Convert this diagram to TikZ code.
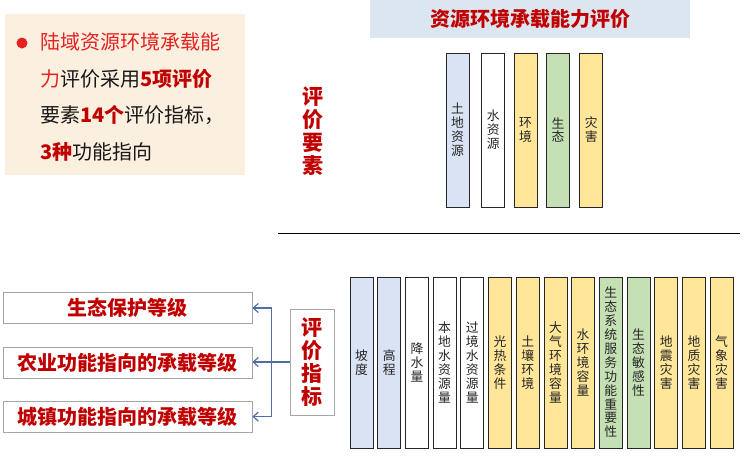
\documentclass[tikz,border=0pt]{standalone}
\usepackage{fontspec}
\usepackage{xcolor}
\usepackage{tikz}
\usetikzlibrary{arrows.meta,positioning}
\newfontfamily\cjk{Noto Sans CJK SC}
\definecolor{darkred}{HTML}{C00000}
\definecolor{brightred}{HTML}{E42222}
\definecolor{barblue}{HTML}{DAE3F3}
\definecolor{baryellow}{HTML}{FFE699}
\definecolor{bargreen}{HTML}{C5E0B4}
\definecolor{banner}{HTML}{DCE6F1}
\definecolor{beige}{HTML}{FBEFDF}
\definecolor{arrowblue}{HTML}{4F6FA8}
\definecolor{boxgray}{HTML}{A6A6A6}

\begin{document}
\begin{tikzpicture}[
    x=1pt, y=-1pt,
    every node/.style={font=\cjk},
    bar/.style={
        draw=black!85,
        line width=0.8pt,
        minimum width=23pt,
        inner sep=0pt,
        align=center,
        text=black!85,
        font=\cjk\fontsize{12.8}{13.9}\selectfont
    },
    topbar/.style={bar, minimum height=154pt},
    lowbar/.style={bar, minimum height=171pt},
    grade/.style={
        draw=boxgray,
        line width=0.8pt,
        minimum width=249pt,
        minimum height=31pt,
        text=darkred,
        font=\cjk\bfseries\fontsize{20}{22}\selectfont
    },
    heading/.style={
        align=center,
        text=darkred,
        font=\cjk\bfseries\fontsize{21}{23}\selectfont
    },
    intro/.style={
        anchor=base west,
        inner sep=0pt,
        text=black!90,
        font=\cjk\fontsize{20}{22}\selectfont
    },
    arrow/.style={-{Straight Barb[length=5pt,width=9pt]}, draw=arrowblue, line width=1.2pt}
]
\useasboundingbox (0,0) rectangle (752,463);

% intro panel
\fill[beige] (5,14) rectangle (245,175);
\node[circle, fill=brightred, minimum size=11pt, inner sep=0pt] (dot) at (22,43) {};
\node[intro, text=brightred] (line1) at (40,49) {陆域资源环境承载能};
\node[intro] (line2) at (40,86) {\textcolor{brightred}{力}评价采用\textbf{\textcolor{darkred}{5项评价}}};
\node[intro] (line3) at (40,122) {要素\textbf{\textcolor{darkred}{14个}}评价指标，};
\node[intro] (line4) at (40,159) {\textbf{\textcolor{darkred}{3种}}功能指向};

% title
\node[fill=banner, minimum width=320pt, minimum height=38pt, text=darkred,
    font=\cjk\bfseries\fontsize{20}{22}\selectfont] (title) at (530,19) {资源环境承载能力评价};

% elements
\node[heading] (elem) at (313,131) {评\\价\\要\\素};
\node[topbar, fill=barblue] (land) at (457.5,130) {土\\地\\资\\源};
\node[topbar, fill=white, right=12pt of land] (water) {水\\资\\源};
\node[topbar, fill=baryellow, right=8.5pt of water] (env) {环\\境};
\node[topbar, fill=bargreen, right=8.5pt of env] (eco) {生\\态};
\node[topbar, fill=baryellow, right=9.5pt of eco] (hazard) {灾\\害};

\draw[line width=0.8pt] (278,233) -- (740,233);

% indicators
\node[lowbar, fill=barblue] (slope) at (361.5,362.5) {坡\\度};
\node[lowbar, fill=barblue, right=3.9pt of slope] (elev) {高\\程};
\node[lowbar, fill=white, right=3.9pt of elev] (rain) {降\\水\\量};
\node[lowbar, fill=white, right=3.9pt of rain] (localw) {本\\地\\水\\资\\源\\量};
\node[lowbar, fill=white, right=3.9pt of localw] (transw) {过\\境\\水\\资\\源\\量};
\node[lowbar, fill=baryellow, right=3.9pt of transw] (light) {光\\热\\条\\件};
\node[lowbar, fill=baryellow, right=3.9pt of light] (soil) {土\\壤\\环\\境};
\node[lowbar, fill=baryellow, right=3.9pt of soil] (air) {大\\气\\环\\境\\容\\量};
\node[lowbar, fill=baryellow, right=3.9pt of air] (waterenv) {水\\环\\境\\容\\量};
\node[lowbar, fill=bargreen, right=3.9pt of waterenv] (service) {生\\态\\系\\统\\服\\务\\功\\能\\重\\要\\性};
\node[lowbar, fill=bargreen, right=3.9pt of service] (sensi) {生\\态\\敏\\感\\性};
\node[lowbar, fill=baryellow, right=3.9pt of sensi] (quake) {地\\震\\灾\\害};
\node[lowbar, fill=baryellow, right=3.9pt of quake] (geo) {地\\质\\灾\\害};
\node[lowbar, fill=baryellow, right=3.9pt of geo] (weather) {气\\象\\灾\\害};

% grades
\node[draw=boxgray, line width=0.8pt, minimum width=44pt, minimum height=106pt, heading] (ind) at (312,362) {评\\价\\指\\标};
\node[grade] (ecograde) at (127.5,308) {生态保护等级};
\node[grade, below=23pt of ecograde] (agri) {农业功能指向的承载等级};
\node[grade, below=22pt of agri] (urban) {城镇功能指向的承载等级};

\coordinate[left=18pt of ind.west] (split);
\draw[arrow] (ind.west) -- (ind.west -| agri.east);
\draw[arrow] (split) |- (ecograde.east);
\draw[arrow] (split) |- (urban.east);
\end{tikzpicture}
\end{document}
